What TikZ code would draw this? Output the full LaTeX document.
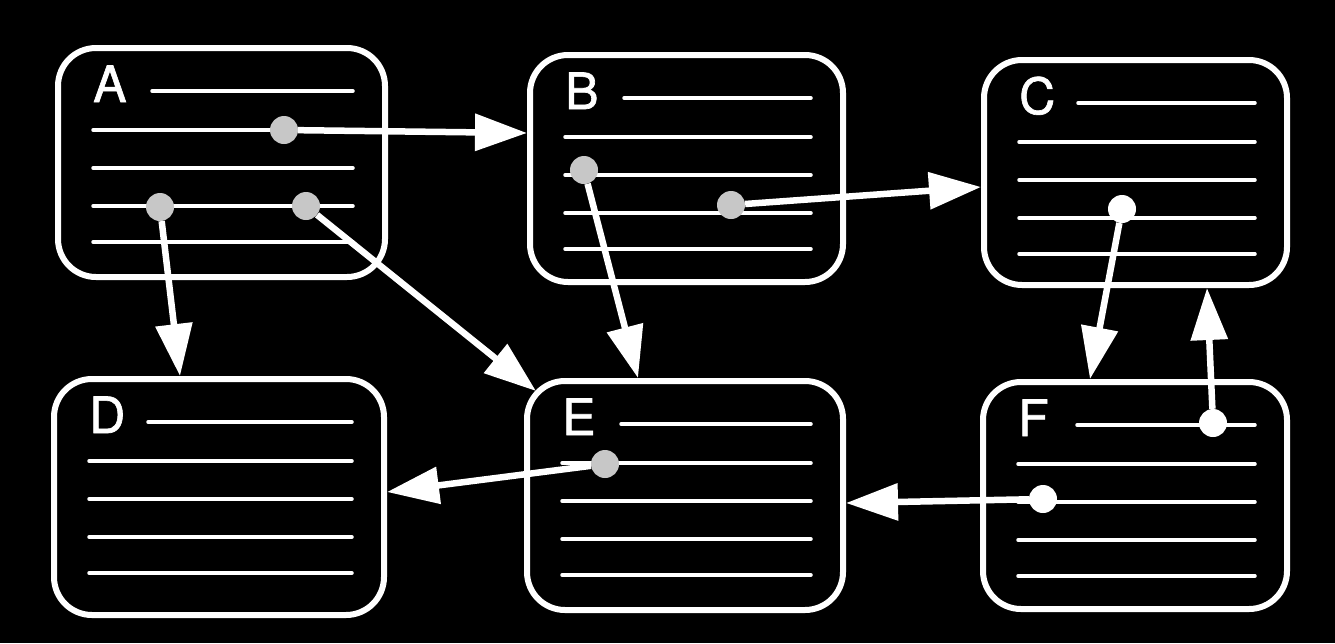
\documentclass[tikz,border=0pt]{standalone}
\usepackage{fontspec}
\newfontfamily\cardfont{TeX Gyre Heros}[FakeBold=1.3]
\usetikzlibrary{arrows.meta,calc}

\begin{document}
\begin{tikzpicture}[x=1pt,y=-1pt,
    card/.style={draw=white,line width=6pt,rounded corners=38pt,inner sep=0pt},
    textline/.style={draw=white,line width=3.5pt,line cap=round},
    blob/.style={circle,fill=#1,inner sep=0pt,minimum size=28pt},
    blob/.default=white,
    wire/.style={draw=white,line width=6.5pt,-{Triangle[length=52pt,width=36pt]}},
    tag/.style={anchor=base west,inner sep=0pt,text=white,font=\fontsize{50}{50}\selectfont\cardfont}]

    % black page, same size as the photo
    \fill[black] (0,0) rectangle (1335,643);
    \useasboundingbox (0,0) rectangle (1335,643);

    % the six record cards
    \node[card,minimum width=327pt,minimum height=229pt] (A) at (221.5,162.5) {};
    \node[card,minimum width=313pt,minimum height=227pt] (B) at (686.5,168.5) {};
    \node[card,minimum width=303pt,minimum height=225pt] (C) at (1135.5,172.5) {};
    \node[card,minimum width=330pt,minimum height=236pt] (D) at (219,497) {};
    \node[card,minimum width=316pt,minimum height=229pt] (E) at (685,495.5) {};
    \node[card,minimum width=304pt,minimum height=227pt] (F) at (1135,495.5) {};

    % letter and text lines of each card
    \foreach \c in {A,B,C,D,E,F}{
        \node[tag] (tag\c) at ($(\c.north west)+(38,57)$) {\c};
        \draw[textline] ($(\c.north west)+(97,46)$) -- ($(\c.north east)+(-35,46)$);
        \foreach \dy in {85,123,161,197}
            \draw[textline] ($(\c.north west)+(38,\dy)$) -- ($(\c.north east)+(-35,\dy)$);
    }

    % pointers sitting on the lines
    \node[blob=black!22] (a1) at (284,130) {};
    \node[blob=black!22] (a2) at (160,207) {};
    \node[blob=black!22] (a3) at (306,206) {};
    \node[blob=black!22] (b1) at (584,170) {};
    \node[blob=black!22] (b2) at (731,205) {};
    \node[blob] (c1) at (1122,209) {};
    \node[blob=black!22] (e1) at (605,464) {};
    \node[blob] (f1) at (1213,423) {};
    \node[blob] (f2) at (1043,499) {};

    % links between the cards
    \draw[wire] (a1) -- ($(B.north west)+(0,81)$);
    \draw[wire] (a2) -- ($(D.north west)+(129,0)$);
    \draw[wire] (a3) -- ($(E.north west)+(12,13)$);
    \draw[wire] (b1) -- ($(E.north west)+(114,0)$);
    \draw[wire] (b2) -- ($(C.north west)+(0,130)$);
    \draw[wire] (c1) -- ($(F.north west)+(110,0)$);
    \draw[wire] (f1) -- ($(C.south west)+(226,0)$);
    \draw[wire] (e1) -- ($(D.north east)+(0,116)$);
    \draw[wire] (f2) -- ($(E.north east)+(0,125)$);
\end{tikzpicture}
\end{document}
